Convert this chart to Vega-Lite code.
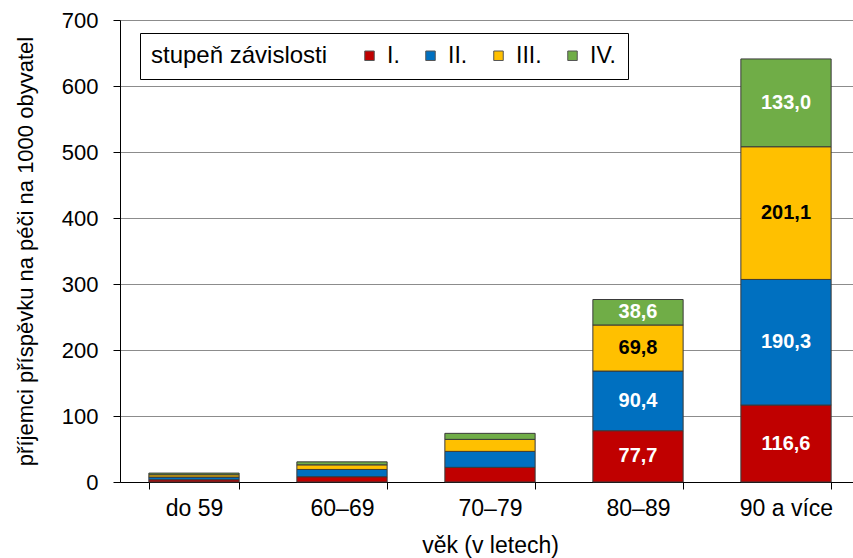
{
  "$schema": "https://vega.github.io/schema/vega-lite/v6.json",
  "autosize": {"type": "none"},
  "width": 740,
  "height": 462,
  "padding": {"left": 120, "top": 20, "right": 0, "bottom": 76},
  "config": {
    "font": "Liberation Sans",
    "view": {"stroke": null}
  },
  "data": {
    "values": [
      {"vek": "do 59", "stupen": "I.", "ord": 1, "hodnota": 3.5},
      {"vek": "do 59", "stupen": "II.", "ord": 2, "hodnota": 4.0},
      {"vek": "do 59", "stupen": "III.", "ord": 3, "hodnota": 3.5},
      {"vek": "do 59", "stupen": "IV.", "ord": 4, "hodnota": 2.5},
      {"vek": "60–69", "stupen": "I.", "ord": 1, "hodnota": 8.0},
      {"vek": "60–69", "stupen": "II.", "ord": 2, "hodnota": 11.0},
      {"vek": "60–69", "stupen": "III.", "ord": 3, "hodnota": 7.0},
      {"vek": "60–69", "stupen": "IV.", "ord": 4, "hodnota": 4.5},
      {"vek": "70–79", "stupen": "I.", "ord": 1, "hodnota": 22.2},
      {"vek": "70–79", "stupen": "II.", "ord": 2, "hodnota": 24.2},
      {"vek": "70–79", "stupen": "III.", "ord": 3, "hodnota": 18.2},
      {"vek": "70–79", "stupen": "IV.", "ord": 4, "hodnota": 9.1},
      {"vek": "80–89", "stupen": "I.", "ord": 1, "hodnota": 77.7, "label": "77,7"},
      {"vek": "80–89", "stupen": "II.", "ord": 2, "hodnota": 90.4, "label": "90,4"},
      {"vek": "80–89", "stupen": "III.", "ord": 3, "hodnota": 69.8, "label": "69,8"},
      {"vek": "80–89", "stupen": "IV.", "ord": 4, "hodnota": 38.6, "label": "38,6"},
      {"vek": "90 a více", "stupen": "I.", "ord": 1, "hodnota": 116.6, "label": "116,6"},
      {"vek": "90 a více", "stupen": "II.", "ord": 2, "hodnota": 190.3, "label": "190,3"},
      {"vek": "90 a více", "stupen": "III.", "ord": 3, "hodnota": 201.1, "label": "201,1"},
      {"vek": "90 a více", "stupen": "IV.", "ord": 4, "hodnota": 133.0, "label": "133,0"}
    ]
  },
  "encoding": {
    "x": {
      "field": "vek",
      "type": "nominal",
      "sort": ["do 59", "60–69", "70–79", "80–89", "90 a více"],
      "scale": {"paddingInner": 0.39, "paddingOuter": 0.195},
      "axis": {
        "title": "věk (v letech)",
        "titleFont": "Liberation Sans",
        "titleFontSize": 23,
        "titleFontWeight": "normal",
        "titleColor": "#000",
        "titlePadding": 14,
        "labelAngle": 0,
        "labelFontSize": 23,
        "labelColor": "#000",
        "labelPadding": 8,
        "tickBand": "extent",
        "tickSize": 7,
        "tickColor": "#000",
        "domainColor": "#000",
        "grid": false
      }
    },
    "y": {
      "field": "hodnota",
      "type": "quantitative",
      "stack": "zero",
      "scale": {"domain": [0, 700]},
      "axis": {
        "title": "příjemci příspěvku na péči na 1000 obyvatel",
        "titleFont": "Liberation Sans",
        "titleFontSize": 22,
        "titleFontWeight": "normal",
        "titleColor": "#000",
        "titlePadding": 24,
        "values": [0, 100, 200, 300, 400, 500, 600, 700],
        "labelFontSize": 22,
        "labelColor": "#000",
        "labelPadding": 15,
        "tickSize": 7,
        "tickColor": "#000",
        "domainColor": "#000",
        "gridColor": "#8c8c8c",
        "gridWidth": 1
      }
    },
    "order": {"field": "ord", "type": "quantitative"}
  },
  "layer": [
    {
      "mark": {"type": "bar", "stroke": "#3a3a3a", "strokeWidth": 1},
      "encoding": {
        "color": {
          "field": "stupen",
          "type": "nominal",
          "sort": ["I.", "II.", "III.", "IV."],
          "scale": {"domain": ["I.", "II.", "III.", "IV."], "range": ["#c00000", "#0070c0", "#ffc000", "#70ad47"]},
          "legend": {
            "title": "stupeň závislosti",
            "orient": "none",
            "legendX": 20,
            "legendY": 13,
            "direction": "horizontal",
            "titleOrient": "left",
            "titleFontSize": 24,
            "titleFontWeight": "normal",
            "titleColor": "#000",
            "titlePadding": 30,
            "labelFontSize": 23,
            "labelColor": "#000",
            "labelOffset": 6,
            "symbolType": "square",
            "symbolSize": 90,
            "symbolStrokeColor": "#555",
            "symbolStrokeWidth": 1,
            "columnPadding": 19,
            "padding": 11,
            "strokeColor": "#000",
            "fillColor": "#fff",
            "symbolOpacity": 1
          }
        }
      }
    },
    {
      "transform": [{"filter": "isValid(datum.label)"}],
      "mark": {"type": "text", "fontSize": 20, "fontWeight": "bold", "baseline": "middle"},
      "encoding": {
        "y": {"field": "hodnota", "type": "quantitative", "stack": "zero", "bandPosition": 0.5},
        "text": {"field": "label"},
        "color": {
          "condition": {"test": "datum.stupen === 'III.'", "value": "#000"},
          "value": "#fff"
        }
      }
    }
  ]
}
